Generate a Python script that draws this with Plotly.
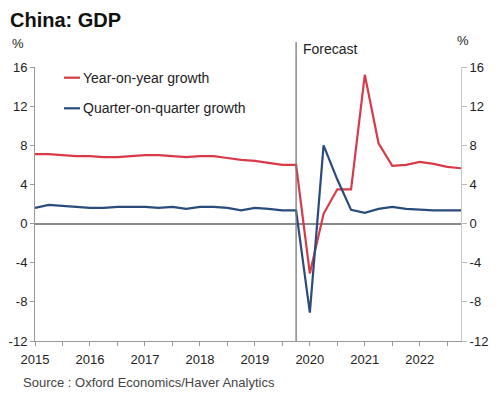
import plotly.graph_objects as go

years = [2015, 2016, 2017, 2018, 2019, 2020, 2021, 2022]
quarters = [y + q * 0.25 for y in years for q in range(4)]

yoy_growth = [7.1, 7.1, 7.0, 6.9,
              6.9, 6.8, 6.8, 6.9,
              7.0, 7.0, 6.9, 6.8,
              6.9, 6.9, 6.7, 6.5,
              6.4, 6.2, 6.0, 6.0,
              -5.1, 1.0, 3.5, 3.5,
              15.2, 8.2, 5.9, 6.0,
              6.3, 6.1, 5.8, 5.65]

qoq_growth = [1.6, 1.9, 1.8, 1.7,
              1.6, 1.6, 1.7, 1.7,
              1.7, 1.6, 1.7, 1.5,
              1.7, 1.7, 1.6, 1.35,
              1.6, 1.5, 1.35, 1.35,
              -9.1, 8.0, 4.5, 1.4,
              1.1, 1.5, 1.7, 1.5,
              1.4, 1.35, 1.35, 1.35]

y_ticks = [-12, -8, -4, 0, 4, 8, 12, 16]
y_ticktext = [str(v) for v in y_ticks]
forecast_start = 2019.75
series_names = ["Year-on-year growth", "Quarter-on-quarter growth"]

RED = "#d83a48"
BLUE = "#2a4c7c"
FONT = "Liberation Sans, Arial, sans-serif"

# page body has an 8px margin; figure is sized/offset to compensate
W, H = 492, 389
PL, PR, PT, PB = 27, 453, 59, 333  # plot area in figure pixels
PW, PH = PR - PL, PB - PT

def px(xs):  # screen x -> paper x
    return (xs - 8 - PL) / PW

def py(ys):  # screen y -> paper y
    return (PB - (ys - 8)) / PH

fig = go.Figure()
fig.add_trace(go.Scatter(x=quarters, y=yoy_growth, mode="lines", name=series_names[0],
                         line=dict(color=RED, width=2.2), showlegend=False))
fig.add_trace(go.Scatter(x=quarters, y=qoq_growth, mode="lines", name=series_names[1],
                         line=dict(color=BLUE, width=2.2), showlegend=False))
# invisible trace to activate right axis
fig.add_trace(go.Scatter(x=[quarters[0]], y=[0], mode="lines", yaxis="y2",
                         showlegend=False, hoverinfo="skip", line=dict(width=0)))

xtickvals = [y + h for y in years for h in (0, 0.5)]
xticktext = [str(y) if h == 0 else "" for y in years for h in (0, 0.5)]

fig.update_layout(
    width=W, height=H,
    margin=dict(l=PL, r=W - PR, t=PT, b=H - PB),
    paper_bgcolor="white", plot_bgcolor="white",
    font=dict(family=FONT, size=13, color="#222"),
    xaxis=dict(range=[2015, 2022.75], tickvals=xtickvals, ticktext=xticktext, automargin=False,
               ticks="outside", ticklen=4, tickcolor="#999", showline=True, linecolor="#999",
               linewidth=1, showgrid=False, zeroline=False, ticklabelstandoff=2,
               tickfont=dict(size=13, color="#222")),
    yaxis=dict(range=[-12, 16], tickvals=y_ticks, ticktext=y_ticktext, automargin=False,
               ticks="outside", ticklen=4, tickcolor="#999",
               showline=True, linecolor="#999", linewidth=1, showgrid=False,
               zeroline=True, zerolinecolor="#8a8a8a", zerolinewidth=1.5,
               tickfont=dict(size=13, color="#222")),
    yaxis2=dict(range=[-12, 16], tickvals=y_ticks, ticktext=y_ticktext, overlaying="y",
                side="right", automargin=False,
                ticks="outside", ticklen=5, tickcolor="#bbb", showline=True, linecolor="#c8c8c8",
                linewidth=1, showgrid=False, zeroline=False, tickfont=dict(size=13, color="#222")),
)

# title
fig.add_annotation(text="<b>China: GDP</b>", xref="paper", yref="paper", x=px(8), y=py(20),
                   xanchor="left", yanchor="middle", showarrow=False,
                   font=dict(size=20, color="#111"))

# forecast divider
fig.add_shape(type="line", xref="x", yref="paper", x0=forecast_start, x1=forecast_start,
              y0=0, y1=py(42), line=dict(color="#777", width=1.3))
fig.add_annotation(text="Forecast", xref="x", yref="paper", x=forecast_start, xshift=5,
                   y=py(49), xanchor="left", yanchor="middle", showarrow=False,
                   font=dict(size=14, color="#222"))

# % labels
fig.add_annotation(text="%", xref="paper", yref="paper", x=px(18), y=py(43),
                   xanchor="center", yanchor="middle", showarrow=False, font=dict(size=13, color="#222"))
fig.add_annotation(text="%", xref="paper", yref="paper", x=px(463), y=py(40),
                   xanchor="center", yanchor="middle", showarrow=False, font=dict(size=13, color="#222"))

# legend
for i, (name, col) in enumerate(zip(series_names, [RED, BLUE])):
    yp = py(77.7 + i * 30.6)
    fig.add_shape(type="line", xref="paper", yref="paper", x0=px(64), x1=px(80),
                  y0=yp, y1=yp, line=dict(color=col, width=2.2))
    fig.add_annotation(text=name, xref="paper", yref="paper", x=px(81), y=yp,
                       xanchor="left", yanchor="middle", showarrow=False,
                       font=dict(size=14, color="#222"))

fig.add_annotation(text="Source : Oxford Economics/Haver Analytics", xref="paper", yref="paper",
                   x=px(21), y=py(382), xanchor="left", yanchor="middle",
                   showarrow=False, font=dict(size=13, color="#444"))

fig.write_html("out.html")
